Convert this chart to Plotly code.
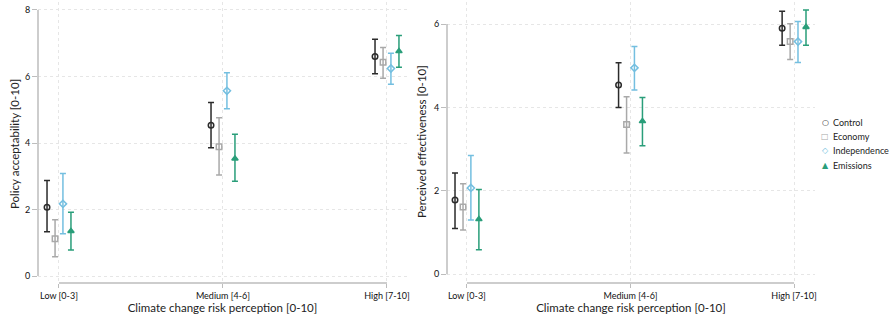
import plotly.graph_objects as go
import numpy as np

groups = ["Low [0-3]", "Medium [4-6]", "High [7-10]"]
series = ["Control", "Economy", "Independence", "Emissions"]

# Policy acceptability (left panel): mean, lower CI, upper CI
acc_control = [2.07, 4.53, 6.60]
acc_control_lo = [1.33, 3.86, 6.08]
acc_control_hi = [2.87, 5.22, 7.12]
acc_economy = [1.12, 3.89, 6.43]
acc_economy_lo = [0.58, 3.04, 5.95]
acc_economy_hi = [1.69, 4.76, 6.87]
acc_indep = [2.17, 5.57, 6.24]
acc_indep_lo = [1.27, 5.03, 5.77]
acc_indep_hi = [3.08, 6.11, 6.70]
acc_emis = [1.35, 3.53, 6.76]
acc_emis_lo = [0.78, 2.85, 6.28]
acc_emis_hi = [1.92, 4.26, 7.23]

# Perceived effectiveness (right panel)
eff_control = [1.78, 4.54, 5.90]
eff_control_lo = [1.10, 4.00, 5.49]
eff_control_hi = [2.43, 5.07, 6.31]
eff_economy = [1.61, 3.59, 5.58]
eff_economy_lo = [1.06, 2.91, 5.15]
eff_economy_hi = [2.17, 4.26, 6.01]
eff_indep = [2.07, 4.95, 5.58]
eff_indep_lo = [1.30, 4.42, 5.08]
eff_indep_hi = [2.85, 5.46, 6.06]
eff_emis = [1.32, 3.67, 5.93]
eff_emis_lo = [0.59, 3.08, 5.49]
eff_emis_hi = [2.03, 4.24, 6.34]

colors = ["#2b2b2b", "#a9a9a9", "#74bfe0", "#2a9e7a"]
symbols = ["circle-open", "square-open", "diamond-open", "triangle-up"]
legend_glyphs = ["○", "□", "◇", "▲"]
offsets = [-0.073, -0.024, 0.024, 0.073]

left = [(acc_control, acc_control_lo, acc_control_hi),
        (acc_economy, acc_economy_lo, acc_economy_hi),
        (acc_indep, acc_indep_lo, acc_indep_hi),
        (acc_emis, acc_emis_lo, acc_emis_hi)]
right = [(eff_control, eff_control_lo, eff_control_hi),
         (eff_economy, eff_economy_lo, eff_economy_hi),
         (eff_indep, eff_indep_lo, eff_indep_hi),
         (eff_emis, eff_emis_lo, eff_emis_hi)]

FONT = "Lato"
W, H = 891, 321
fig = go.Figure()
base = np.array([1, 2, 3], dtype=float)

for panel, (data, xa, ya) in enumerate([(left, "x", "y"), (right, "x2", "y2")]):
    for i, (m, lo, hi) in enumerate(data):
        m = np.array(m); lo = np.array(lo); hi = np.array(hi)
        fig.add_trace(go.Scatter(
            x=base + offsets[i], y=m, mode="markers", name=series[i],
            xaxis=xa, yaxis=ya, showlegend=False,
            marker=dict(symbol=symbols[i], color=colors[i], size=5.5,
                        line=dict(color=colors[i], width=1.5)),
            error_y=dict(type="data", symmetric=False, array=hi - m,
                         arrayminus=m - lo, color=colors[i], thickness=1.5, width=3),
        ))

axis_col = "#bdbdbd"
grid = dict(showgrid=True, gridcolor="#e6e6e6", griddash="dot", gridwidth=1, zeroline=False)
tickfont = dict(family=FONT, size=9, color="#111")
titlefont = dict(family=FONT, size=11.5, color="#222")

xcommon = dict(tickmode="array", tickvals=[1, 2, 3], ticktext=groups, ticks="outside",
               ticklen=4, tickcolor=axis_col, tickfont=tickfont, showline=False,
               automargin=False, **grid)

def px(x):
    return x / W

def py(y):
    return 1 - y / H

fig.update_layout(
    width=W, height=H, margin=dict(l=0, r=0, t=0, b=0, autoexpand=False),
    paper_bgcolor="white", plot_bgcolor="white",
    xaxis=dict(domain=[px(38), px(407)], range=[0.872, 3.122], anchor="y",
               title=dict(text="Climate change risk perception [0-10]", font=titlefont, standoff=4), **xcommon),
    yaxis=dict(domain=[py(283), py(2)], range=[-0.21, 8.24], anchor="x",
               tickvals=[0, 2, 4, 6, 8], ticks="outside", ticklen=5, tickcolor=axis_col,
               tickfont=tickfont, showline=False, automargin=False, **grid),
    xaxis2=dict(domain=[px(447), px(815)], range=[0.878, 3.128], anchor="y2",
                title=dict(text="Climate change risk perception [0-10]", font=titlefont, standoff=4), **xcommon),
    yaxis2=dict(domain=[py(283), py(2)], range=[-0.21, 6.53], anchor="x2",
                tickvals=[0, 2, 4, 6], ticks="outside", ticklen=5, tickcolor=axis_col,
                tickfont=tickfont, showline=False, automargin=False, **grid),
    showlegend=False,
)

# Y-axis titles
for text, xp, yp in [("Policy acceptability [0-10]", 14, 144),
                     ("Perceived effectiveness [0-10]", 421, 142)]:
    fig.add_annotation(xref="paper", yref="paper", x=px(xp), y=py(yp), text=text,
                       textangle=-90, showarrow=False, xanchor="center", yanchor="middle",
                       font=titlefont)

# Stata-style axis lines spanning only the data range
for xr, yr, ytop in [("x", "y", 8), ("x2", "y2", 6)]:
    fig.add_shape(type="line", xref=f"{xr} domain", yref=yr, x0=0, x1=0, y0=0, y1=ytop,
                  line=dict(color=axis_col, width=1.5))
    fig.add_shape(type="line", xref=xr, yref=f"{yr} domain", x0=1, x1=3, y0=0, y1=0,
                  line=dict(color=axis_col, width=1.5))

# Legend (compact, Stata-style)
for i, name in enumerate(series):
    yy = py(122 + 14.5 * i)
    fig.add_annotation(xref="paper", yref="paper", x=px(825), y=yy, text=legend_glyphs[i],
                       showarrow=False, xanchor="center", yanchor="middle",
                       font=dict(family="DejaVu Sans", size=8, color=colors[i]))
    fig.add_annotation(xref="paper", yref="paper", x=px(831), y=yy, text=name,
                       showarrow=False, xanchor="left", yanchor="middle",
                       font=dict(family=FONT, size=9, color="#222"))

fig.write_html("out.html", config={"displayModeBar": False},
               post_script="document.body.style.margin='0';document.body.style.overflow='hidden';")
